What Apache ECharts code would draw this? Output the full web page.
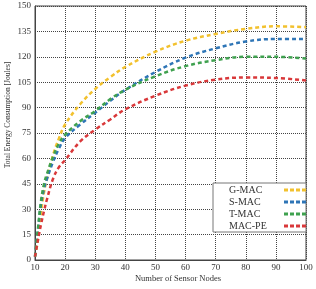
<!DOCTYPE html>
<html>
<head>
<meta charset="utf-8">
<script src="https://cdn.jsdelivr.net/npm/echarts@6/dist/echarts.min.js"></script>
<style>
  html, body { margin: 0; padding: 0; background: #ffffff; }
  #chart { width: 316px; height: 289px; }
</style>
</head>
<body>
<div id="chart"></div>
<script>
  // sensor nodes (x) and energy per protocol (y)
  var nodes = [10, 11, 12, 13, 14, 16, 18, 20, 25, 30, 35, 40, 50, 60, 70, 80, 90, 100]
  var gmac  = [2, 12, 28, 40, 48, 62, 72, 80, 92, 101, 108, 114, 123, 129.5, 133.5, 136.5, 138, 137.5]
  var smac  = [2, 18, 33, 42, 48, 58, 66, 72, 80, 87, 94, 100.5, 111, 119.5, 125, 129, 130.5, 130.5]
  var tmac  = [2, 19, 35, 45, 51, 61, 69, 74, 82, 88, 95, 100.5, 108.5, 114.5, 118, 120, 120, 119]
  var macpe = [2, 12, 21, 29, 36, 48, 55, 59, 70, 77, 83, 89, 97, 103, 106.5, 107.8, 107.5, 106]
  var names = ['G-MAC', 'S-MAC', 'T-MAC', 'MAC-PE']
  var colors = ['#f2c12e', '#2e75b6', '#3fa14f', '#d9383a']
  var seriesData = [gmac, smac, tmac, macpe]

  var font = '"Liberation Serif", "DejaVu Serif", serif'
  var dashIcon = 'path://M0,0h4v3h-4zM6,0h4v3h-4zM12,0h4v3h-4zM18,0h4v3h-4z'
  var chart = echarts.init(document.getElementById('chart'), null, { renderer: 'canvas' })

  var series = seriesData.map(function (vals, i) {
    return {
      name: names[i],
      type: 'line',
      smooth: 0.4,
      symbol: 'none',
      data: nodes.map(function (x, j) { return [x, vals[j]] }),
      lineStyle: { color: colors[i], width: 2.5, type: [4, 3] },
      itemStyle: { color: colors[i] }
    }
  })

  chart.setOption({
    animation: false,
    grid: {
      left: 35, right: 10, top: 6, bottom: 29,
      show: true, borderColor: '#444', borderWidth: 1, backgroundColor: '#fff'
    },
    legend: {
      data: names.map(function (n) { return { name: n, icon: dashIcon } }),
      orient: 'vertical',
      left: 213, top: 183,
      align: 'right',
      itemWidth: 22, itemHeight: 3, itemGap: 2,
      padding: [2, 0, 1, 16],
      backgroundColor: '#fff',
      borderColor: '#777', borderWidth: 1,
      formatter: '{t|{name}}',
      textStyle: {
        fontFamily: font, fontSize: 10, color: '#333',
        rich: { t: { width: 50, align: 'left', fontFamily: font, fontSize: 10, color: '#333', lineHeight: 10 } }
      }
    },
    graphic: [
      {
        type: 'text', x: 8, y: 115, rotation: Math.PI / 2,
        style: {
          text: 'Total Energy Consumption [Joules]',
          font: '7.5px ' + font, fill: '#333', align: 'center', verticalAlign: 'middle'
        }
      },
      {
        type: 'text', x: 178, y: 279,
        style: {
          text: 'Number of Sensor Nodes',
          font: '8.5px ' + font, fill: '#333', align: 'center', verticalAlign: 'middle'
        }
      }
    ],
    xAxis: {
      type: 'value', min: 10, max: 100, interval: 10,
      axisLine: { lineStyle: { color: '#444' } },
      axisTick: { show: false },
      axisLabel: { fontFamily: font, fontSize: 9, color: '#333', margin: 3 },
      splitLine: { lineStyle: { type: [1, 1], color: '#444' } }
    },
    yAxis: {
      type: 'value', min: 0, max: 150, interval: 15,
      axisLine: { show: true, lineStyle: { color: '#444' } },
      axisTick: { show: false },
      axisLabel: { fontFamily: font, fontSize: 9, color: '#333', margin: 4 },
      splitLine: { lineStyle: { type: [1, 1], color: '#444' } }
    },
    series: series
  })
</script>
</body>
</html>
